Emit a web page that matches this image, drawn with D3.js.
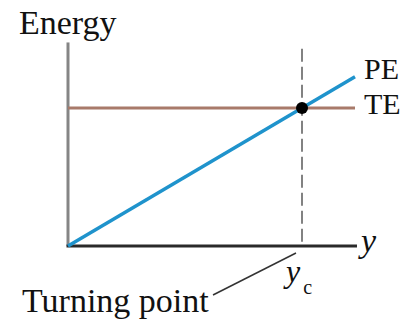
<!DOCTYPE html>
<html><head><meta charset="utf-8">
<script src="https://cdn.jsdelivr.net/npm/d3@7"></script>
<style>html,body{margin:0;padding:0;background:#fff;}svg{display:block;}</style>
</head><body>
<script>
// Data (position y, energy)
const peY = [0, 1.2265];          // PE line: from origin to end of drawn range
const peE = [0, 1.2265];          // PE = k*y (k=1 in these units)
const teE = 1.0;                  // total energy
const teRange = [0, 1.2265];
const yc = 1.0;                   // turning point
const axisMaxY = 1.235;
const axisMaxE = 1.475;
const labels = {energy: "Energy", pe: "PE", te: "TE", yAxis: "y", turning: "Turning point"};

const W = 404, H = 328;
const svg = d3.select("body").append("svg").attr("width", W).attr("height", H);
const x = d3.scaleLinear().domain([0, 1]).range([68, 302]);
const y = d3.scaleLinear().domain([0, 1]).range([246, 108]);
const font = "'Liberation Serif','Times New Roman',serif";

// y-axis (grey)
svg.append("line").attr("x1", x(0)).attr("x2", x(0)).attr("y1", y(0)).attr("y2", y(axisMaxE))
  .attr("stroke", "#858585").attr("stroke-width", 3);
// dashed line at yc
svg.append("line").attr("x1", x(yc)).attr("x2", x(yc)).attr("y1", y(axisMaxE - 0.045)).attr("y2", y(0))
  .attr("stroke", "#5a5a5a").attr("stroke-width", 1.5).attr("stroke-dasharray", "13,5");
// TE line
svg.append("line").attr("x1", x(teRange[0])).attr("x2", x(teRange[1])).attr("y1", y(teE)).attr("y2", y(teE))
  .attr("stroke", "#a87a6a").attr("stroke-width", 3);
// x-axis
svg.append("line").attr("x1", x(0) - 1.5).attr("x2", x(axisMaxY)).attr("y1", y(0)).attr("y2", y(0))
  .attr("stroke", "#2a2a2a").attr("stroke-width", 3);
// PE line
const line = d3.line().x(d => x(d[0])).y(d => y(d[1]));
svg.append("path").datum(d3.zip(peY, peE)).attr("d", line)
  .attr("fill", "none").attr("stroke", "#1f93cc").attr("stroke-width", 3.5);
// turning point dot
svg.append("circle").attr("cx", x(yc)).attr("cy", y(teE)).attr("r", 6).attr("fill", "#000");

// leader line
svg.append("line").attr("x1", 296).attr("y1", 253).attr("x2", 213).attr("y2", 295)
  .attr("stroke", "#333").attr("stroke-width", 1.5);

// texts
const t = (s, xx, yy, opts = {}) => svg.append("text").attr("x", xx).attr("y", yy)
  .attr("font-family", font).attr("font-size", opts.size || 34).attr("fill", "#111")
  .attr("font-style", opts.italic ? "italic" : null).text(s);
t(labels.energy, 19, 34);
t(labels.pe, 364, 79, {size: 30});
t(labels.te, 364, 114, {size: 30});
t(labels.yAxis, 361, 252, {italic: true});
const yct = svg.append("text").attr("x", 286).attr("y", 282).attr("font-family", font)
  .attr("font-size", 32).attr("fill", "#111");
yct.append("tspan").attr("font-style", "italic").text("y");
yct.append("tspan").attr("font-size", 20).attr("dy", 12).attr("dx", 3).text("c");
t(labels.turning, 22, 312);
</script>
</body></html>
